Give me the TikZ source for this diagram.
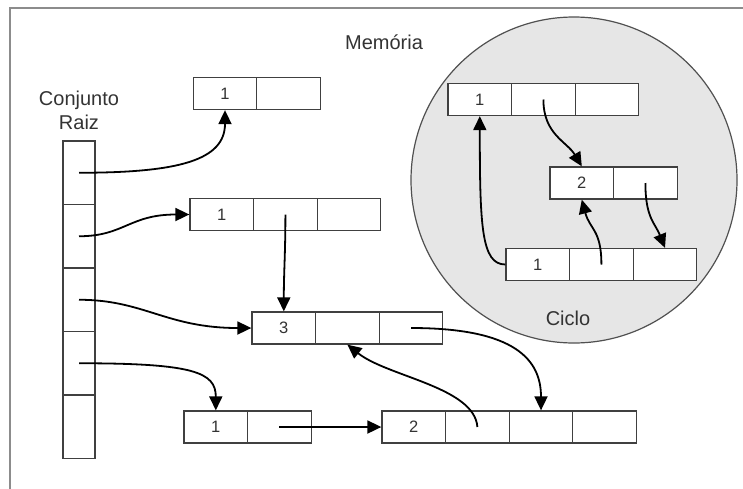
\documentclass[tikz,border=0pt]{standalone}
\usepackage{fontspec}
\setmainfont{Liberation Sans}
\usetikzlibrary{arrows.meta}
\definecolor{framegray}{HTML}{8C8C8C}
\definecolor{boxgray}{HTML}{404040}
\definecolor{txtgray}{HTML}{333333}
\definecolor{cyclefill}{HTML}{E6E6E6}
\definecolor{cycleline}{HTML}{505050}
\begin{document}
\begin{tikzpicture}[x=1pt,y=-1pt,
  cell/.style={draw=boxgray, line width=1.3pt, fill=white, minimum width=63.6pt,
    minimum height=32pt, inner sep=0pt, font=\fontsize{16.5}{16.5}\selectfont, text=txtgray},
  rootcell/.style={cell, minimum width=32pt, minimum height=63.5pt},
  link/.style={line width=1.8pt, -{Triangle[length=14pt,width=13pt]}, draw=black},
  lbl/.style={font=\fontsize{20}{24}\selectfont, text=txtgray, align=center}]

\useasboundingbox (0,0) rectangle (743,488);
\begin{scope}
  \clip (0,0) rectangle (743,488);
  \draw[framegray, line width=2pt] (10,8) rectangle (800,560);
\end{scope}

% region holding the cycle
\node[circle, draw=cycleline, line width=1.2pt, fill=cyclefill,
      minimum size=326pt, inner sep=0pt] (ring) at (574,180) {};

\node[lbl] (mem) at (384,42) {Memória};
\node[lbl] (root) at (79,110) {Conjunto\\Raiz};
\node[lbl] (ciclo) at (568,318) {Ciclo};

% root set column
\node[rootcell] (r1) at (79,172.75) {};
\node[rootcell] (r2) at (79,236.25) {};
\node[rootcell] (r3) at (79,299.75) {};
\node[rootcell] (r4) at (79,363.25) {};
\node[rootcell] (r5) at (79,426.75) {};

% objects
\node[cell] (a1) at (225,93.5) {1};
\node[cell] (a2) at (288.6,93.5) {};

\node[cell] (b1) at (221.8,214.5) {1};
\node[cell] (b2) at (285.4,214.5) {};
\node[cell] (b3) at (349,214.5) {};

\node[cell] (c1) at (283.8,328) {3};
\node[cell] (c2) at (347.4,328) {};
\node[cell] (c3) at (411,328) {};

\node[cell] (d1) at (215.8,427) {1};
\node[cell] (d2) at (279.4,427) {};

\node[cell] (e1) at (413.8,427) {2};
\node[cell] (e2) at (477.4,427) {};
\node[cell] (e3) at (541,427) {};
\node[cell] (e4) at (604.6,427) {};

% objects inside the cycle
\node[cell] (k11) at (479.8,99.5) {1};
\node[cell] (k12) at (543.4,99.5) {};
\node[cell] (k13) at (607,99.5) {};

\node[cell] (k21) at (581.8,183) {2};
\node[cell] (k22) at (645.4,183) {};

\node[cell] (k31) at (537.8,264.5) {1};
\node[cell] (k32) at (601.4,264.5) {};
\node[cell] (k33) at (665,264.5) {};

% references
\draw[link] (r1.center) .. controls +(100,0) and +(0,50) .. (a1.south);
\draw[link] (r2.center) .. controls +(45,0) and +(-60,0) .. (b1.west);
\draw[link] (b2.center) .. controls +(0,40) and +(0,-40) .. (c1.north);
\draw[link] (r3.center) .. controls +(65,0) and +(-85,0) .. (c1.west);
\draw[link] (r4.center) .. controls +(115,0) and +(0,-38) .. (d1.north);
\draw[link] (d2.center) -- (e1.west);
\draw[link] (c3.center) .. controls +(105,0) and +(0,-50) .. (e3.north);
\draw[link] (e2.center) .. controls +(-3,-40) and +(40,32) .. (c2.south);

\draw[link] (k12.center) .. controls +(0,35) and +(-15,-25) .. (k21.north);
\draw[link] (k22.center) .. controls +(0,35) and +(-10,-25) .. (k33.north);
\draw[link] (k32.center) .. controls +(0,-35) and +(8,30) .. (k21.south);
\draw[link] (k31.west) .. controls +(-24,0) and +(0,110) .. (k11.south);
\end{tikzpicture}
\end{document}
